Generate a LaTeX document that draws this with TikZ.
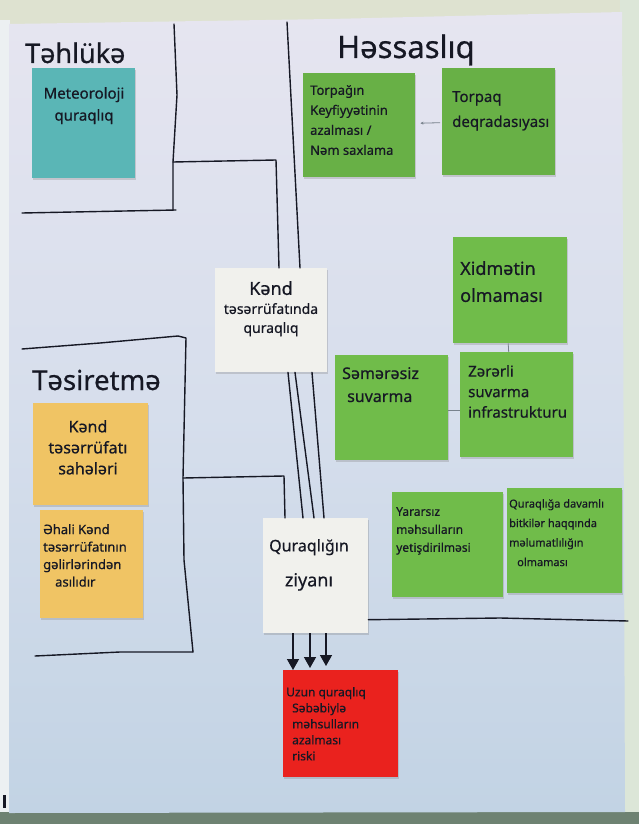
\documentclass[tikz,border=0pt]{standalone}
\usepackage{fontspec}
\setmainfont{Noto Sans}[FakeBold=0.6]
\usetikzlibrary{arrows.meta,shadows,calc}
\definecolor{paperTop}{RGB}{230,229,240}
\definecolor{paperMid}{RGB}{214,222,236}
\definecolor{paperBot}{RGB}{194,211,228}
\definecolor{outTop}{RGB}{222,226,208}
\definecolor{outRight}{RGB}{220,230,216}
\definecolor{outBot}{RGB}{110,130,114}
\definecolor{outLeft}{RGB}{236,240,242}
\definecolor{noteTeal}{RGB}{90,182,182}
\definecolor{noteGreen}{RGB}{104,176,70}
\definecolor{noteGreenB}{RGB}{112,188,74}
\definecolor{noteOrange}{RGB}{240,196,100}
\definecolor{noteWhite}{RGB}{241,241,237}
\definecolor{noteRed}{RGB}{234,34,30}
\definecolor{ink}{RGB}{22,24,36}
\definecolor{faintInk}{RGB}{120,130,140}
\tikzset{
  note/.style={rectangle, inner sep=0pt, anchor=north west,
    drop shadow={shadow xshift=1.2pt, shadow yshift=-1.6pt, opacity=.3}},
  txt/.style={inner sep=0pt, text=ink, align=left, anchor=north west},
  ctxt/.style={inner sep=0pt, text=ink, align=center, anchor=north},
  heading/.style={inner sep=0pt, text=ink, anchor=base west},
  box/.style={draw=ink, line width=1.4pt, line join=round, line cap=round},
  faint/.style={draw=faintInk, line width=0.8pt},
  bigarrow/.style={draw=ink, line width=1.4pt, -{Triangle[length=11pt,width=12pt]}}
}
\begin{document}
\begin{tikzpicture}[x=1pt,y=-1pt]
\useasboundingbox (0,0) rectangle (639,824);
% surroundings and paper
\fill[outTop] (0,0) rectangle (639,824);
\fill[outRight] (620,0) rectangle (639,824);
\fill[outLeft] (0,20) rectangle (10,824);
\fill[outBot] (0,812) rectangle (639,824);
\fill[ink] (3,795) rectangle (6,808);
\shade[top color=paperTop, bottom color=paperBot, middle color=paperMid]
  (9,24) -- (330,19) -- (622,12) -- (625,812) -- (9,813) -- cycle;

% headings
\node[heading, font=\fontsize{27}{30}\selectfont] (h1) at (25,63) {Təhlükə};
\node[heading, font=\fontsize{31}{34}\selectfont] (h2) at (337,58) {Həssaslıq};
\node[heading, font=\fontsize{27.5}{30}\selectfont] (h3) at (32,390) {Təsiretmə};

% notes
\node[note, fill=noteTeal, minimum width=103pt, minimum height=110pt] (meteo) at (32,68) {};
\node[note, fill=noteGreen, minimum width=112pt, minimum height=104pt] (torpagin) at (303,73) {};
\node[note, fill=noteGreen, minimum width=113pt, minimum height=107pt] (torpaq) at (442,68) {};
\node[note, fill=noteWhite, minimum width=112pt, minimum height=104pt] (kend) at (215,268) {};
\node[note, fill=noteGreenB, minimum width=114pt, minimum height=106pt] (xidmet) at (453,237) {};
\node[note, fill=noteGreenB, minimum width=113pt, minimum height=105pt] (semer) at (335,355) {};
\node[note, fill=noteGreenB, minimum width=113pt, minimum height=105pt] (zerer) at (460,352) {};
\node[note, fill=noteOrange, minimum width=115pt, minimum height=102pt] (sahe) at (33,403) {};
\node[note, fill=noteOrange, minimum width=103pt, minimum height=108pt] (ehali) at (40,510) {};
\node[note, fill=noteWhite, minimum width=105pt, minimum height=115pt] (ziyan) at (263,518) {};
\node[note, fill=noteGreenB, minimum width=111pt, minimum height=105pt] (yarar) at (392,492) {};
\node[note, fill=noteGreenB, minimum width=115pt, minimum height=105pt] (davam) at (507,488) {};
\node[note, fill=noteRed, minimum width=115pt, minimum height=107pt] (risk) at (283,670) {};

% note texts
\node[ctxt, font=\fontsize{15}{22}\selectfont] (meteo-t) at (84,87) {Meteoroloji\\quraqlıq};
\node[txt, font=\fontsize{13}{20}\selectfont] (torpagin-t) at (310,85) {Torpağın\\Keyfiyyətinin\\azalması /\\Nəm saxlama};
\node[txt, font=\fontsize{15}{25}\selectfont] (torpaq-t) at (452,91) {Torpaq\\deqradasıyası};
\node[ctxt, font=\fontsize{14}{19}\selectfont] (kend-t) at (271,281) {{\fontsize{18}{19}\selectfont Kənd}\\təsərrüfatında\\quraqlıq};
\node[txt, font=\fontsize{18}{27}\selectfont] (xidmet-t) at (460,261) {Xidmətin\\olmaması};
\node[txt, font=\fontsize{16}{23}\selectfont] (semer-t) at (342,367) {Səmərəsiz\\\hspace*{5pt}suvarma};
\node[txt, font=\fontsize{15}{20.5}\selectfont] (zerer-t) at (468,365) {Zərərli\\suvarma\\infrastrukturu};
\node[ctxt, font=\fontsize{16}{21}\selectfont] (sahe-t) at (88,420) {Kənd\\təsərrüfatı\\sahələri};
\node[txt, font=\fontsize{13}{17.5}\selectfont] (ehali-t) at (43,524) {Əhali Kənd\\təsərrüfatının\\gəlirlərindən\\\hspace*{12pt}asılıdır};
\node[ctxt, font=\fontsize{16}{35}\selectfont] (ziyan-t) at (309,539) {Quraqlığın\\{\fontsize{18}{35}\selectfont ziyanı}};
\node[txt, font=\fontsize{12}{18}\selectfont] (yarar-t) at (396,507) {Yararsız\\məhsulların\\yetişdirilməsi};
\node[txt, font=\fontsize{11}{19.5}\selectfont] (davam-t) at (509,499) {Quraqlığa davamlı\\bitkilər haqqında\\məlumatlılığın\\\hspace*{8pt}olmaması};
\node[txt, font=\fontsize{12}{16}\selectfont] (risk-t) at (286,687) {Uzun quraqlıq\\\hspace*{6pt}Səbəbiylə\\\hspace*{6pt}məhsulların\\\hspace*{6pt}azalması\\\hspace*{6pt}riski};

% Təhlükə frame
\coordinate (j1) at (173,162);
\draw[box] (174,24) -- (177,95) -- (j1) -- (173,210);
\draw[box] (22,213) -- (176,210);
\draw[box] (j1) -- (276,160) -- ($(kend.north west)+(64,0)$);
% Həssaslıq frame
\draw[box] (287,22) -- ($(kend.north west)+(85,0)$);
\draw[box] ($(ziyan.east)+(0,44)$) -- (500,618) -- (628,621);
% Təsiretmə frame
\coordinate (j2) at (183,478);
\draw[box] (22,349) -- (100,343) -- (178,336) -- (186,338) -- (j2) -- (184,560) -- (193,652);
\draw[box] (35,656) -- (120,652) -- (193,652);
\draw[box] (j2) -- (284,476) -- ($(ziyan.north west)+(22,0)$);

% three lines from kend to ziyan
\draw[box] ($(kend.south west)+(73,0)$) -- ($(ziyan.north west)+(40,0)$);
\draw[box] ($(kend.south west)+(80,0)$) -- ($(ziyan.north west)+(51,0)$);
\draw[box] ($(kend.south west)+(97,0)$) -- ($(ziyan.north west)+(61,0)$);

% arrows to risk
\draw[bigarrow] ($(ziyan.south west)+(30,0)$) -- ($(risk.north west)+(10,0)$);
\draw[bigarrow] ($(ziyan.south west)+(47,0)$) -- ($(risk.north west)+(27,-2)$);
\draw[bigarrow] ($(ziyan.south west)+(63,0)$) -- ($(risk.north west)+(43,-4)$);

% faint links between notes
\draw[faint, -{Stealth[length=3pt,width=3pt]}] ($(torpaq.west)+(-2,1)$) -- ($(torpagin.east)+(5,-2)$);
\draw[faint] ($(semer.east)+(0,3)$) -- ($(zerer.west)+(0,6)$);
\draw[faint] ($(xidmet.south)+(-2,0)$) -- ($(zerer.north)+(-8,0)$);
\end{tikzpicture}
\end{document}
